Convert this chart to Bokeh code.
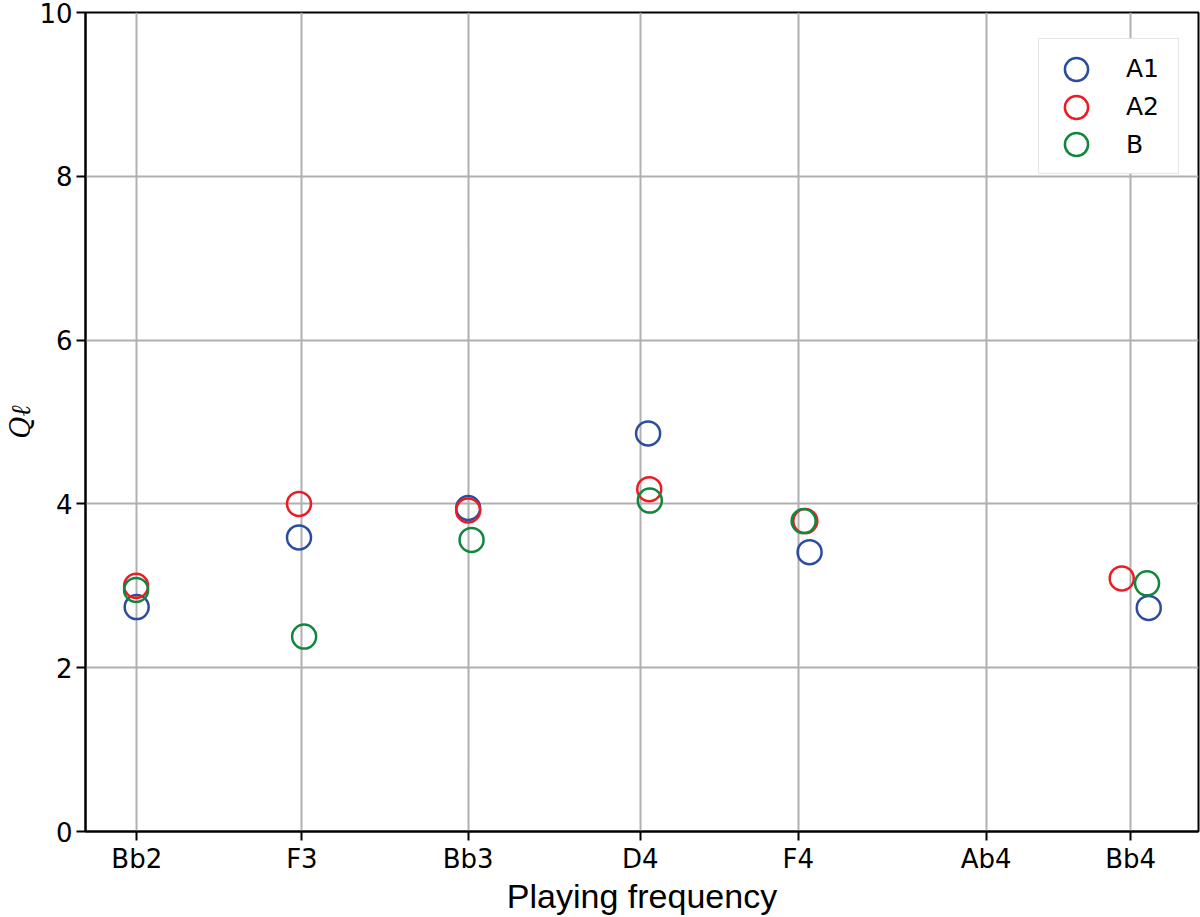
from bokeh.plotting import figure
from bokeh.models import FixedTicker, Range1d, Legend, LegendItem
from bokeh.embed import file_html
from bokeh.resources import INLINE

# Tick positions (equal-tempered note frequencies, Hz) and labels
note_names = ["Bb2", "F3", "Bb3", "D4", "F4", "Ab4", "Bb4"]
note_freqs = [116.54, 174.61, 233.08, 293.66, 349.23, 415.30, 466.16]

# Series: playing frequency (Hz) and Q_l
x_A1 = [116.5, 173.6, 233.1, 296.4, 353.2, 472.5]
y_A1 = [2.74, 3.59, 3.95, 4.86, 3.41, 2.73]
x_A2 = [116.3, 173.6, 233.1, 296.8, 351.7, 463.0]
y_A2 = [3.00, 4.00, 3.92, 4.18, 3.79, 3.09]
x_B = [116.3, 175.4, 234.3, 297.0, 351.1, 471.9]
y_B = [2.95, 2.38, 3.56, 4.04, 3.79, 3.03]

series_names = ["A1", "A2", "B"]
y_ticks = [0, 2, 4, 6, 8, 10]

BL = 85   # left border
BB = 86   # bottom border
BT = 12   # top border
W, H = 1200, 917
FB = H - BB   # frame bottom in page pixels

p = figure(width=W, height=H, output_backend="svg", toolbar_location=None,
           x_range=Range1d(98.5, 490), y_range=Range1d(0, 10),
           min_border_left=BL, min_border_right=2, min_border_top=BT,
           min_border_bottom=BB)

p.background_fill_color = "white"
p.outline_line_color = "black"
p.outline_line_width = 2

p.xaxis.ticker = FixedTicker(ticks=note_freqs)
p.xaxis.major_label_overrides = {f: n for f, n in zip(note_freqs, note_names)}
p.yaxis.ticker = FixedTicker(ticks=y_ticks)

for ax in (p.xaxis, p.yaxis):
    ax.axis_line_color = "black"
    ax.axis_line_width = 2
    ax.major_tick_line_width = 2
    ax.major_tick_out = 9
    ax.major_tick_in = 0
    ax.minor_tick_line_color = None
    ax.major_label_text_font = "DejaVu Sans"
    ax.major_label_text_font_size = "26px"
    ax.major_label_text_color = "black"
    ax.axis_label_text_color = "black"

p.yaxis.major_label_standoff = 4
p.xaxis.major_label_standoff = 3

p.xaxis.axis_label = "Playing frequency"
p.xaxis.axis_label_text_font = "Liberation Sans"
p.xaxis.axis_label_text_font_size = "34px"
p.xaxis.axis_label_text_font_style = "normal"
p.xaxis.axis_label_standoff = 0

p.yaxis.axis_label = "Qℓ"
p.yaxis.axis_label_text_font = "DejaVu Serif"
p.yaxis.axis_label_text_font_size = "27px"
p.yaxis.axis_label_text_font_style = "italic"
p.yaxis.axis_label_standoff = 0

p.xgrid.grid_line_color = "#b0b0b0"
p.ygrid.grid_line_color = "#b0b0b0"
p.xgrid.grid_line_width = 2
p.ygrid.grid_line_width = 2

colors = ["#2b4c9f", "#ec1c24", "#10873d"]

r1 = p.scatter(x_A1, y_A1, marker="circle", size=24, fill_color=None,
               line_color=colors[0], line_width=2.5)
r2 = p.scatter(x_A2, y_A2, marker="circle", size=24, fill_color=None,
               line_color=colors[1], line_width=2.5)
r3 = p.scatter(x_B, y_B, marker="circle", size=24, fill_color=None,
               line_color=colors[2], line_width=2.5)

# legend frame: labels with invisible glyphs
dummy = p.scatter([], [], marker="circle", size=1, line_alpha=0, fill_alpha=0)
box = Legend(items=[LegendItem(label=n, renderers=[dummy]) for n in series_names],
             location=(1038 - BL, FB - 174))
box.margin = 0
box.padding = (9, 12, 10, 10)
box.spacing = 0
box.glyph_width = 58
box.glyph_height = 38
box.label_height = 38
box.label_width = 40
box.label_standoff = 20
box.label_text_font = "DejaVu Sans"
box.label_text_font_size = "25px"
box.label_text_color = "black"
box.border_line_color = "#cccccc"
box.border_line_width = 1.5
box.background_fill_color = "white"
box.background_fill_alpha = 1.0
p.add_layout(box, "center")

# legend glyphs (full-size markers), one overlay per series
for i, r in enumerate([r1, r2, r3]):
    yc = 69 + i * 37.5
    lg = Legend(items=[LegendItem(label=" ", renderers=[r])],
                location=(1076 - 29 - BL, FB - (yc + 29)))
    lg.margin = 0
    lg.padding = 0
    lg.spacing = 0
    lg.glyph_width = 58
    lg.glyph_height = 58
    lg.label_width = 0
    lg.label_standoff = 0
    lg.label_text_alpha = 0
    lg.border_line_color = None
    lg.background_fill_alpha = 0
    lg.inactive_fill_alpha = 0
    p.add_layout(lg, "center")

open("out.html", "w").write(file_html(p, INLINE))
